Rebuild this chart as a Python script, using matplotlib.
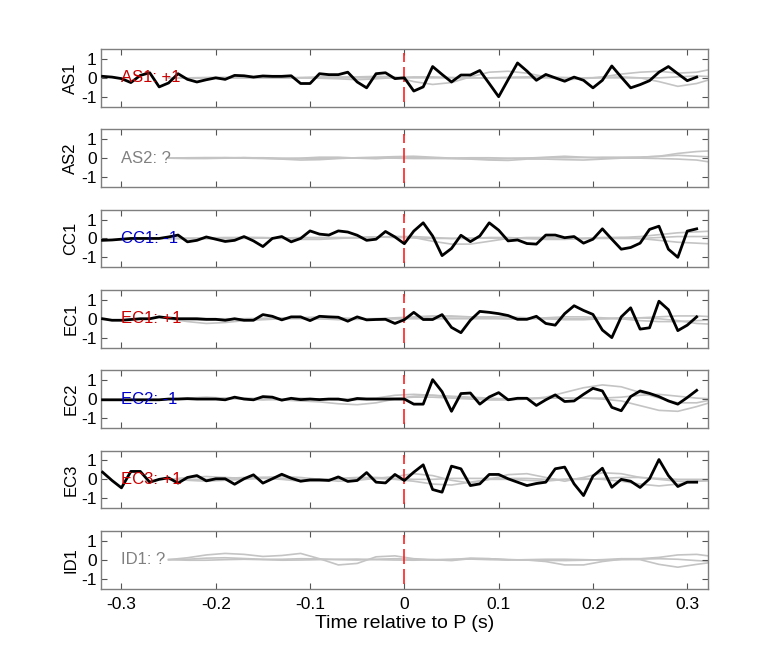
import numpy as np
import matplotlib
matplotlib.use('Agg')
import matplotlib.pyplot as plt

plt.rcParams['font.family'] = ['Liberation Sans', 'DejaVu Sans']

# estaciones y etiquetas
estaciones = ['AS1', 'AS2', 'CC1', 'EC1', 'EC2', 'EC3', 'ID1']
etiquetas = ['AS1: +1', 'AS2: ?', 'CC1: -1', 'EC1: +1', 'EC2: -1', 'EC3: +1', 'ID1: ?']
colores_etiqueta = ['#CC0000', '#808080', '#0000CC', '#CC0000', '#0000CC', '#CC0000', '#808080']

# tiempo de las trazas negras (muestras cada 0.01 s)
t_negro = np.round(np.arange(-0.32, 0.315, 0.01), 2)

# trazas negras (None = sin traza)
negro_as1 = [0.08, 0.04, -0.04, -0.25, 0.13, 0.27, -0.48, -0.27, 0.22, -0.08, -0.22, -0.1, 0, -0.08, 0.13, 0.11,
             0.04, 0.1, 0.08, 0.08, 0.11, -0.3, -0.3, 0.22, 0.17, 0.17, 0.3, -0.22, -0.53, 0.22, 0.27, -0.04,
             0, -0.7, -0.48, 0.6, 0.18, -0.22, 0.15, 0.15, 0.39, -0.3, -1.0, -0.1, 0.79, 0.36, -0.13, 0.18,
             0, -0.18, 0.04, -0.13, -0.53, -0.13, 0.63, 0.04, -0.53, -0.36, -0.15, 0.3, 0.6, 0.22, -0.15, 0.04]
negro_cc1 = [-0.1, -0.08, -0.04, 0, 0, 0, 0, 0.08, 0.18, -0.18, -0.1, 0.08, -0.04, -0.16, -0.1, 0.1,
             -0.13, -0.43, 0, 0.1, -0.18, 0, 0.4, 0.23, 0.18, 0.4, 0.34, 0.17, -0.1, -0.04, 0.37, 0.08,
             -0.28, 0.39, 0.83, 0.13, -0.91, -0.53, 0.17, -0.17, 0.13, 0.83, 0.44, -0.13, -0.08, -0.27, -0.3, 0.18,
             0.18, 0.04, 0.1, -0.25, -0.04, 0.51, -0.04, -0.57, -0.48, -0.25, 0.48, 0.65, -0.57, -1.0, 0.39, 0.51]
negro_ec1 = [0, -0.08, -0.08, -0.04, 0, 0, 0.1, 0.04, 0, 0, 0, -0.03, -0.03, -0.08, 0, -0.08,
             -0.08, 0.22, 0.13, -0.06, 0.1, 0.1, -0.1, 0.13, 0.1, 0.08, -0.13, 0.1, -0.06, -0.04, -0.03, -0.25,
             -0.05, 0.34, -0.04, -0.04, 0.22, -0.46, -0.74, -0.08, 0.39, 0.34, 0.27, 0.17, -0.03, -0.03, 0.13, -0.25,
             -0.34, 0.27, 0.69, 0.44, 0.23, -0.6, -1.0, 0.1, 0.58, -0.55, -0.48, 0.93, 0.48, -0.63, -0.34, 0.1]
negro_ec2 = [-0.04, -0.04, -0.04, -0.04, -0.04, -0.04, -0.04, 0, 0, 0.02, 0, 0, 0, -0.04, 0.1, 0,
             -0.04, 0.13, 0.1, -0.06, 0.04, -0.03, 0, -0.03, 0, 0, -0.08, 0.03, 0, 0, 0, 0,
             0, -0.27, -0.27, 1.03, 0.39, -0.65, 0.29, 0.32, -0.27, 0.11, 0.34, -0.04, 0.04, 0.04, -0.34, -0.04,
             0.22, -0.13, -0.1, 0.25, 0.57, 0.43, -0.44, -0.62, 0.13, 0.43, 0.3, 0.13, -0.1, -0.27, 0.08, 0.46]
negro_ec3 = [0.38, -0.06, -0.45, 0.42, 0.42, -0.15, 0, 0.08, -0.2, 0.1, 0.2, -0.08, 0.03, 0.03, -0.26, 0.03,
             0.24, -0.2, 0.03, 0.27, 0.06, -0.1, -0.03, -0.03, -0.06, 0.13, -0.11, -0.06, 0.36, -0.15, -0.19, 0.26,
             -0.06, 0.38, 0.77, -0.54, -0.68, 0.7, 0.56, -0.33, -0.24, 0.26, 0.26, 0.03, -0.15, -0.33, -0.22, -0.15,
             0.56, 0.65, -0.24, -0.86, 0.17, 0.59, -0.42, 0, -0.1, -0.43, 0.03, 1.05, 0.2, -0.38, -0.15, -0.15]
negros = [negro_as1, None, negro_cc1, negro_ec1, negro_ec2, negro_ec3, None]

# trazas grises (cada 0.02 s desde -0.25)
t_gris = np.round(np.arange(-0.25, 0.335, 0.02), 2)

gris_as1 = [[0, 0, 0.02, 0.03, 0.02, 0, 0, 0.02, 0.05, 0.05, 0.05, 0.08, 0.05, -0.2, -0.35, -0.25, 0.05, 0.3, 0.35, 0.25, 0.05, -0.1, -0.05, 0.05, 0.2, 0.3, 0.35, 0.25, 0.3, 0.5],
            [0, -0.02, -0.02, 0, 0, 0.02, 0, 0, -0.02, -0.05, -0.1, -0.05, 0.02, 0.05, 0.05, 0.02, 0, 0, 0.03, 0.05, 0.05, 0.02, 0, 0.02, 0.05, 0, -0.2, -0.45, -0.3, 0],
            [0, 0, 0, 0, 0, 0, 0, 0, 0, 0, 0, 0, 0, 0, 0, 0, 0, 0, 0, 0, 0, 0, 0, 0, 0, 0, 0, 0.05, 0.1, 0.05]]
gris_as2 = [[0, 0, 0, 0.02, 0.03, 0, -0.05, -0.1, -0.08, -0.02, 0.02, 0.05, 0.08, 0.1, 0.05, 0, -0.02, -0.05, -0.03, 0, 0.05, 0.1, 0.05, 0, 0.02, 0.05, 0.1, 0.25, 0.35, 0.4],
            [0, 0.02, 0.03, 0.03, 0, -0.02, -0.03, 0, 0.05, 0.05, 0, -0.03, 0.03, 0.05, 0, -0.03, -0.05, -0.1, -0.12, -0.05, -0.05, -0.08, -0.1, -0.05, 0, 0, -0.02, -0.05, -0.1, -0.25],
            [0, -0.02, -0.02, 0, 0.02, 0.02, 0, -0.02, -0.02, 0, 0.02, 0.02, 0, -0.02, -0.02, 0, 0.02, 0.02, 0, 0, 0.02, 0.02, 0.03, 0.05, 0.05, 0.05, 0.1, 0.15, 0.1, 0.05]]
gris_cc1 = [[0, 0, 0, 0.02, 0.05, 0.05, 0.02, 0.05, 0.05, 0.05, 0.03, 0.05, 0.1, 0.05, -0.15, -0.3, -0.3, -0.15, 0, 0.05, 0.05, 0, 0, 0.02, 0.05, 0.1, 0.2, 0.3, 0.35, 0.4],
            [0, 0, -0.02, -0.02, 0, 0.02, 0, -0.05, -0.05, 0, 0.05, 0.08, 0.1, 0.1, 0.05, 0, 0, 0.05, 0.05, 0, -0.05, -0.05, 0, 0.05, 0.05, 0, -0.1, -0.2, -0.25, -0.3],
            [0, 0, 0.03, 0.05, 0.05, 0.03, 0.03, 0.03, 0.03, 0.03, 0.05, 0.08, 0.05, 0.03, 0, 0, 0.02, 0.02, 0, 0, 0, 0, 0, 0, 0, 0, 0.05, 0.1, 0.1, 0.1]]
gris_ec1 = [[0, -0.15, -0.25, -0.2, -0.1, -0.05, 0, 0.05, 0.1, 0.05, 0, 0, 0, 0.05, 0.1, 0.1, 0.1, 0.1, 0.1, 0.05, 0, -0.05, -0.05, 0, 0.05, 0.05, 0, -0.1, -0.25, -0.3],
            [0, 0, 0, 0, 0, 0.02, 0.05, 0.05, 0, -0.05, -0.03, 0, 0.05, 0.1, 0.15, 0.15, 0.1, 0.05, 0, 0, 0.05, 0.1, 0.1, 0.05, 0, -0.1, -0.15, -0.15, -0.1, -0.05],
            [0, -0.05, -0.08, -0.05, 0, 0, 0, 0, 0, 0, 0, 0, 0, 0, 0, 0, 0, 0, 0, 0, 0, 0, 0, 0, 0, 0.05, 0.1, 0.15, 0.15, 0.1]]
gris_ec2 = [[0, 0, 0, 0.05, 0.05, 0, -0.05, -0.1, -0.15, -0.25, -0.3, -0.2, 0, 0.15, 0.2, 0.15, 0.1, 0.05, 0, 0, 0.1, 0.35, 0.6, 0.75, 0.65, 0.35, 0.05, -0.2, -0.2, 0],
            [0, 0.05, 0.1, 0.05, 0, -0.05, 0, 0.05, 0, -0.05, -0.05, 0, 0.05, 0.1, 0.1, 0.05, 0, -0.05, -0.05, 0, 0.05, 0.05, 0.05, 0, -0.1, -0.35, -0.6, -0.65, -0.4, -0.1],
            [0, 0, 0, 0, 0.03, 0.03, 0, 0, 0, 0, 0.03, 0.05, 0.2, 0.25, 0.2, 0.1, 0.05, 0, 0, 0.05, 0.05, 0.05, 0.05, 0.05, 0.1, 0.2, 0.25, 0.15, 0.05, 0]]
gris_ec3 = [[0, 0.1, 0.15, 0.1, 0.05, 0.1, 0.15, 0.1, 0, -0.1, -0.05, 0.05, 0.15, 0.3, 0.2, -0.05, -0.2, 0, 0.25, 0.3, 0.1, -0.1, 0.1, 0.35, 0.3, 0.1, 0, -0.1, -0.1, -0.05],
            [0, -0.05, -0.1, -0.05, 0, 0.05, 0, -0.1, -0.1, 0, 0.05, 0.05, 0, -0.1, -0.25, -0.3, -0.15, 0, 0, -0.05, -0.1, 0, 0.05, 0, -0.1, -0.25, -0.35, -0.25, -0.1, -0.05],
            [0, 0, 0, 0.05, 0.1, 0.1, 0.05, 0, 0, 0.05, 0.1, 0.1, 0.05, 0, 0, 0.05, 0.05, 0.05, 0.05, 0.05, 0, 0, 0, 0.05, 0.1, 0.1, 0.05, 0, 0, 0]]
gris_id1 = [[0, 0.1, 0.25, 0.33, 0.28, 0.17, 0.22, 0.33, 0.05, -0.28, -0.2, 0.15, 0.2, 0.05, 0, -0.05, 0.05, 0.05, 0, -0.02, -0.1, -0.28, -0.28, -0.1, 0.02, 0, -0.25, -0.4, -0.25, -0.12],
            [0, 0.02, 0.08, 0.1, 0.06, 0.02, 0.02, 0.05, 0.04, 0, -0.02, 0.02, 0.05, 0.02, -0.02, 0, 0.08, 0.05, 0, -0.02, -0.04, -0.05, -0.03, 0, 0.05, 0.05, 0.12, 0.25, 0.28, 0.15],
            [0, -0.03, -0.03, 0, 0.02, 0, -0.03, -0.02, 0, 0.02, 0.03, 0, -0.02, -0.03, 0, 0.02, 0.03, 0, -0.02, 0, 0.02, 0.02, 0, -0.02, 0, 0.03, 0.05, 0.02, -0.05, -0.1]]
grises = [gris_as1, gris_as2, gris_cc1, gris_ec1, gris_ec2, gris_ec3, gris_id1]

x_ticks = [-0.3, -0.2, -0.1, 0, 0.1, 0.2, 0.3]
x_ticklabels = ['-0.3', '-0.2', '-0.1', '0', '0.1', '0.2', '0.3']

fig = plt.figure(figsize=(7.82, 6.57), dpi=100)
W, H = 782, 657
izq, der = 100.7, 708
alto = 57.7
paso = 80.3
arriba0 = 49

for i, est in enumerate(estaciones):
    top = arriba0 + paso * i
    ax = fig.add_axes([izq / W, 1 - (top + alto) / H, (der - izq) / W, alto / H])
    for g in grises[i]:
        ax.plot(t_gris, g, color='#C4C4C4', lw=1.2, zorder=1)
    ax.plot([0, 0], [-1.3, 1.3], color='#FF2020', lw=1.2, linestyle=(0, (9, 3)), zorder=2)
    if negros[i] is not None:
        ax.plot(t_negro, negros[i], color='black', lw=2.0, zorder=3)
    ax.text(-0.3, 0, etiquetas[i], color=colores_etiqueta[i], fontsize=12, va='center', ha='left', zorder=4)
    ax.set_xlim(-0.322, 0.322)
    ax.set_ylim(-1.53, 1.53)
    ax.set_yticks([-1, 0, 1])
    ax.set_yticklabels(['-1', '0', '1'])
    ax.set_xticks(x_ticks)
    ax.set_ylabel(est, fontsize=12, labelpad=2)
    ax.tick_params(direction='in', length=4, width=0.8, color='#555555', labelsize=12.5,
                   top=True, right=True, pad=3)
    ax.tick_params(axis='x', pad=6)
    for s in ax.spines.values():
        s.set_color('#7F7F7F')
        s.set_linewidth(1.0)
    if i == len(estaciones) - 1:
        ax.set_xticklabels(x_ticklabels)
        ax.set_xlabel('Time relative to P (s)', fontsize=14, labelpad=2)
    else:
        ax.set_xticklabels([])

fig.savefig('out.png', dpi=100)
